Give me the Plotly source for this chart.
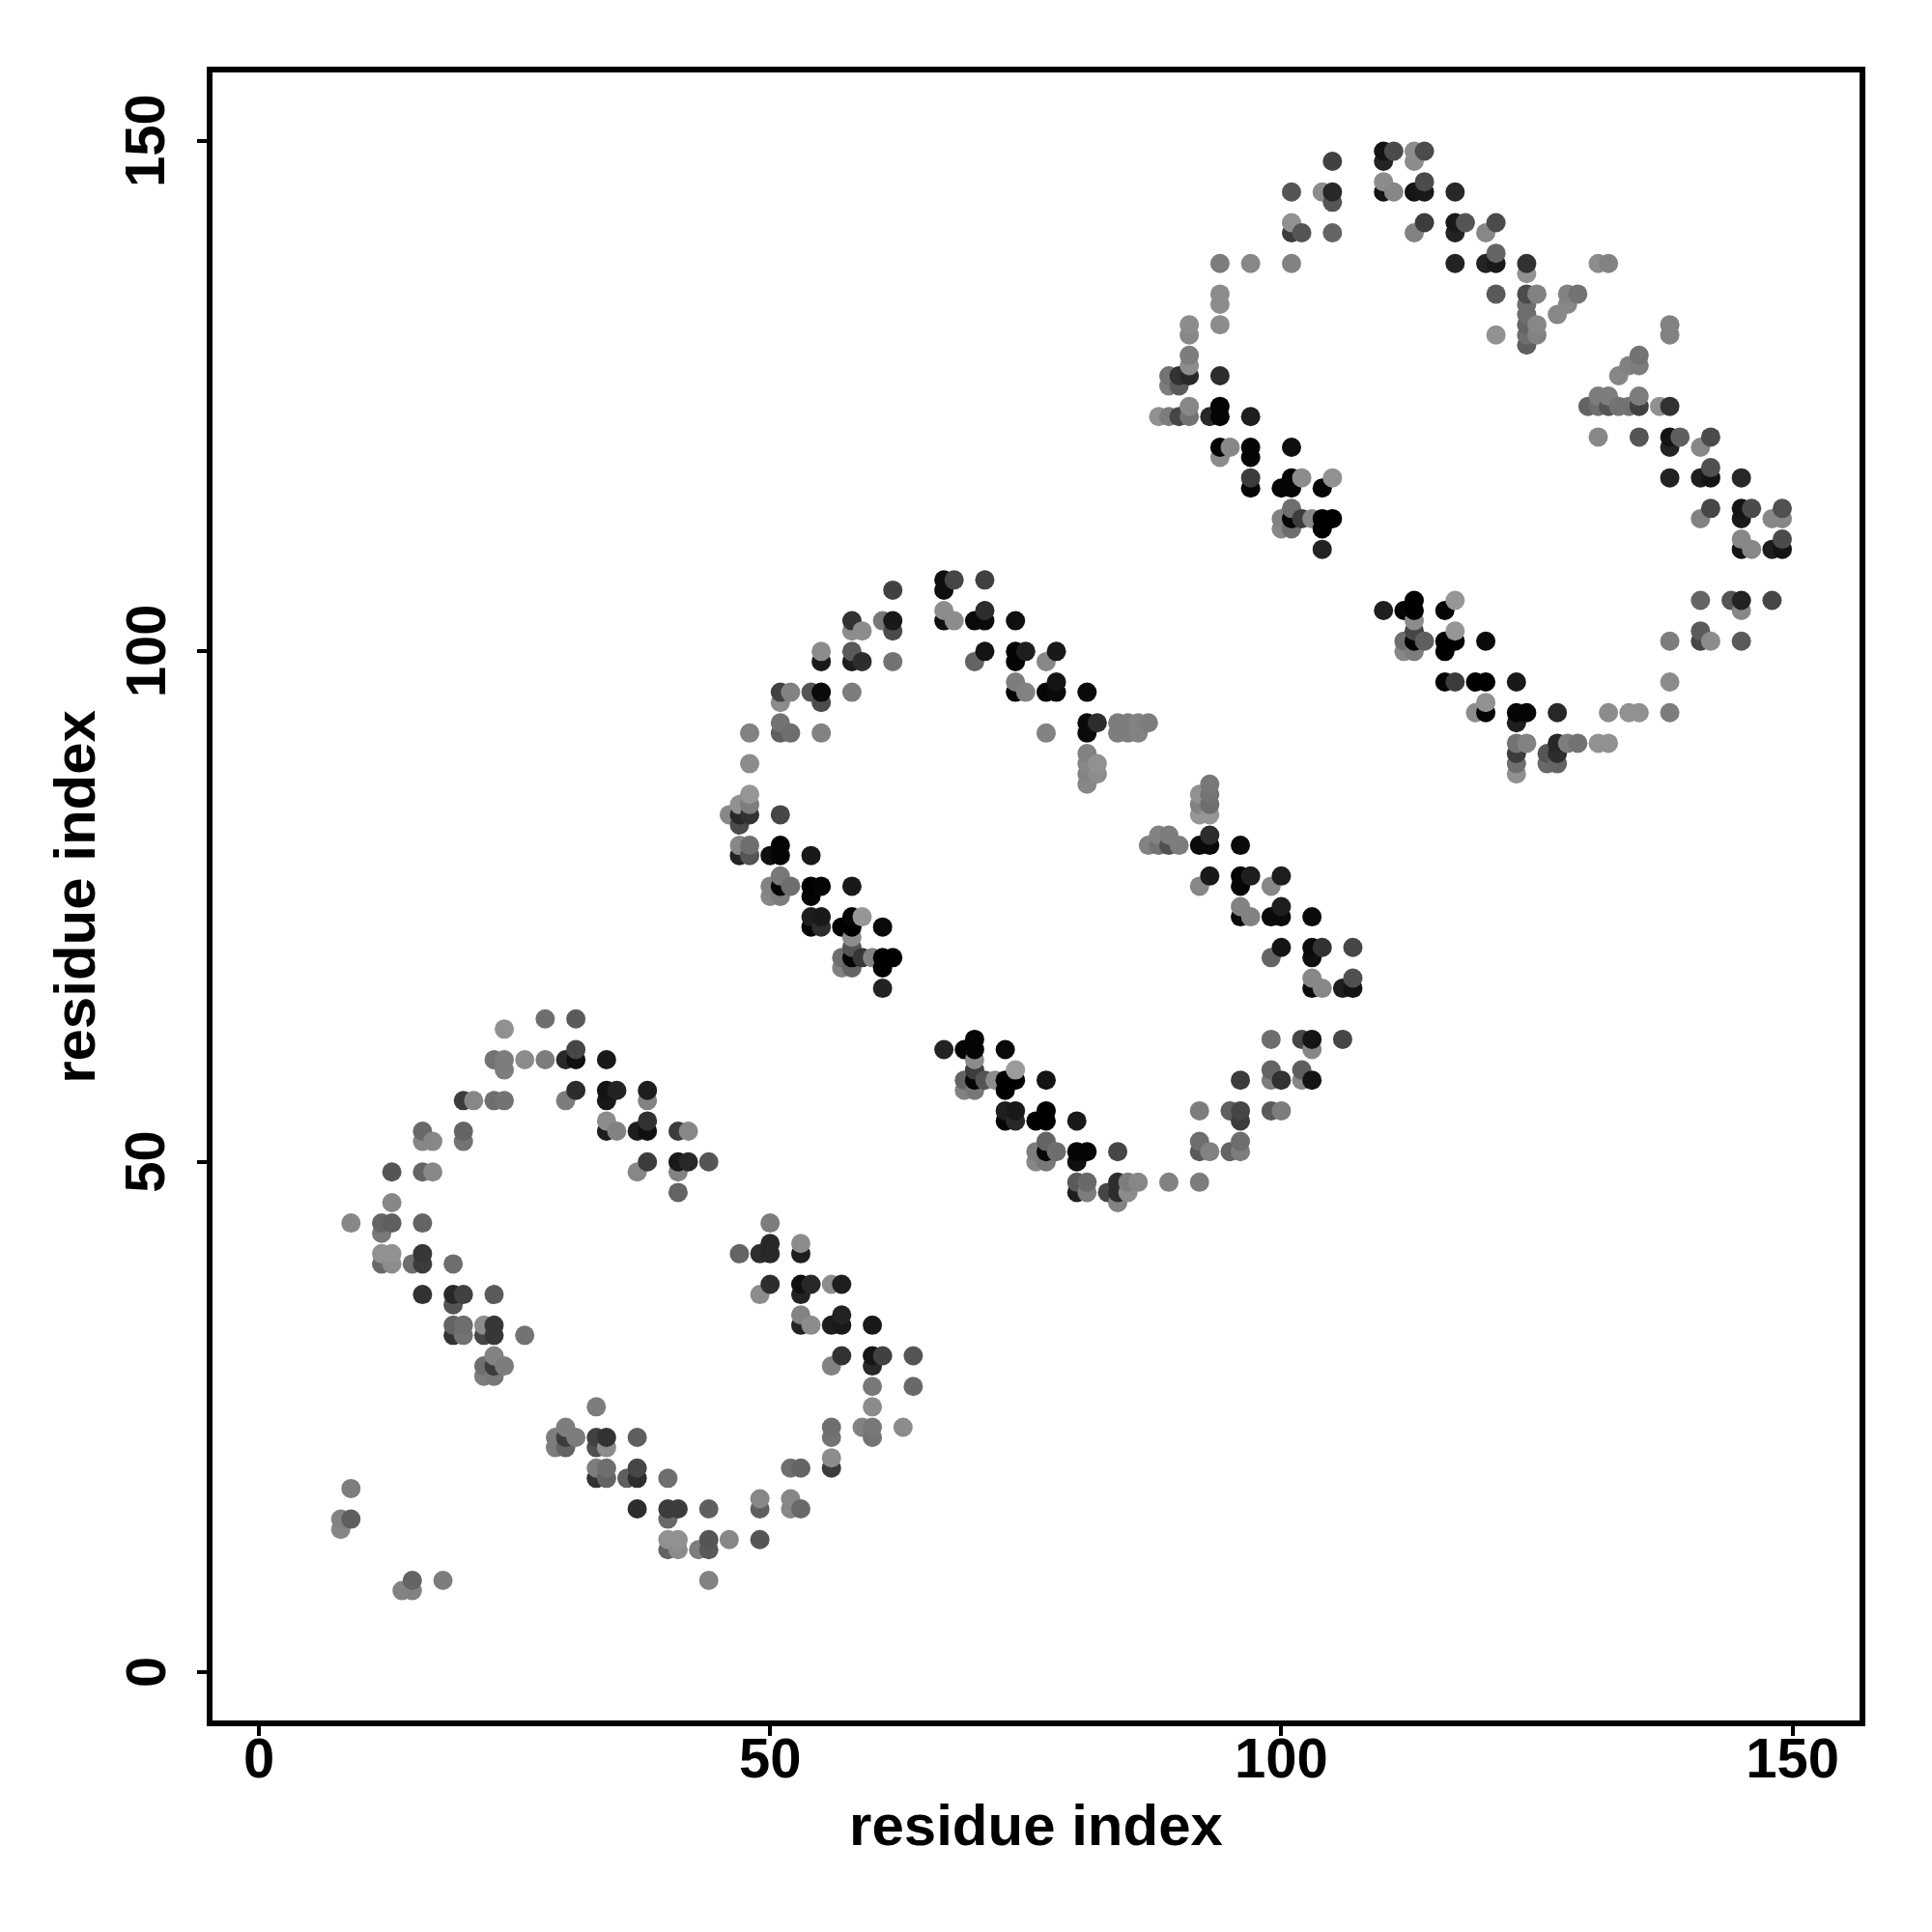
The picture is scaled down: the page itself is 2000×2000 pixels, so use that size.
import numpy as np
import plotly.graph_objects as go

tick_values = [0, 50, 100, 150]
axis_title = "residue index"

# domain 1
d1_x = [24,28,31,31,23,24,24,26,28,30,31,34,31,30,34,35,34,38,38,20,21,23,24,16,16,17,20,20,34,34,35,37,38,38,37,38,13,16,17,13,
        9,12,13,12,16,12,13,12,13,15,16,16,19,16,19,20,19,23,19,20,22,23,26,19,20,22,23,23,22,23,24,22,23,33,30,29,30,31,29,30,
        33,34,33,34,37,33,34,33,34,36,37,37,37,9,8,9,8,15,14,15,18,41,42,41,42,44,41,41,50,50,47,49,50,53,53,50,49,53,54,53,
        56,57,53,53,54,56,57,57,60,57,56,60,61,60,64,60,64,60,56,56,59,60,60,63,56,56,52,53,49,49,52,52,53,49,44,40,41,40,40,41,
        40,41,43,44,44,46,44,40]
d1_y = [63,64,64,61,60,60,59,60,60,60,60,60,57,56,57,57,56,57,56,56,56,56,56,53,52,52,53,52,54,53,53,53,54,53,49,50,49,49,49,46,
        44,44,44,43,44,41,41,40,40,40,41,40,40,37,37,37,36,37,34,34,34,34,33,33,33,33,33,31,30,30,30,29,29,26,24,23,23,23,22,22,
        23,23,22,22,23,20,20,19,19,19,20,19,16,18,15,15,14,9,8,8,9,53,53,50,50,50,49,47,44,42,41,41,41,42,41,38,37,38,38,37,
        38,38,35,34,34,34,35,34,34,31,30,31,31,30,31,28,28,26,24,23,24,24,23,24,21,20,20,20,17,16,17,16,16,13,16,16,16,15,13,13,
        12,12,12,13,12,13,9,19]
d1_grey = [145,110,90,70,115,125,125,140,125,40,15,25,45,125,20,35,25,30,130,60,135,110,115,105,135,135,100,115,140,30,130,30,50,15,135,60,85,100,135,135,
           135,100,95,120,100,145,145,105,140,110,55,60,110,50,40,65,85,90,100,110,140,55,115,50,115,70,55,130,110,60,125,125,120,125,125,125,60,125,125,100,
           65,50,80,140,95,125,110,50,100,95,70,45,45,125,130,95,135,100,130,130,125,60,135,25,40,85,130,100,125,40,100,45,40,140,30,45,140,15,40,35,
           140,30,130,35,140,30,35,25,25,50,130,20,65,40,85,120,105,140,110,115,130,120,115,140,140,60,110,100,135,95,135,135,105,85,95,60,60,105,145,145,
           100,140,125,85,90,135,130,110]

# domain 2
d2_x = [62,67,68,67,71,58,58,59,61,62,62,67,68,67,70,71,71,74,55,55,58,58,59,62,71,70,74,75,74,77,51,52,51,54,55,55,58,74,74,75,
        77,48,51,51,52,55,77,48,48,47,48,46,47,48,47,51,47,48,47,48,50,51,51,54,51,50,51,52,50,51,54,55,54,58,
        54,55,54,55,57,58,58,59,61,58,58,57,58,59,60,61,62,61,57,58,61,
        67,69,70,70,73,70,70,69,70,71,72,73,74,74,73,77,69,70,73,74,73,74,76,77,77,80,77,76,77,78,76,77,80,81,80,84,
        80,81,80,81,83,84,84,85,85,86,84,89,92,92,92,92,93,
        78,78,81,78,81,82,81,84,85,86,87,84,85,86,81,81,82,81,82,81,
        87,88,89,88,89,90,92,93,93,96,92,93,93,92,93,92,93,93,92,96,97,96,100,99,96,97,96,99,100,100,103,100,99,103,104,103,107,103,104,103,106,107,107,
        99,102,103,106,103,99,99,102,103,102,100,96,96,95,99,100,96,96,96,95]
d2_y = [106,107,107,106,107,103,102,102,103,103,102,104,103,103,103,103,104,103,100,99,100,99,99,99,100,99,100,100,99,99,96,96,95,96,96,95,96,97,96,96,
        96,92,93,92,92,92,92,89,86,85,85,84,84,84,83,84,81,81,80,80,80,81,80,80,78,77,77,77,76,76,77,77,76,77,
        74,74,73,73,73,74,73,74,73,72,71,70,70,70,70,70,70,69,69,69,67,
        61,61,62,61,61,60,59,58,58,58,58,58,58,59,57,58,57,57,55,55,54,54,54,55,54,54,52,51,51,51,50,50,51,51,50,51,
        48,48,47,47,47,48,47,48,47,48,46,48,48,55,52,51,51,
        100,97,96,96,93,93,92,93,93,93,93,92,92,92,90,89,89,88,88,87,
        81,82,82,81,81,81,81,81,82,81,86,87,86,85,85,84,84,78,77,78,78,77,78,77,75,74,74,74,75,74,74,71,70,71,71,70,71,68,67,67,67,68,67,
        62,62,62,62,61,59,58,59,58,58,58,58,55,55,55,55,54,52,51,51]
d2_grey = [65,15,70,15,65,50,140,140,120,25,75,140,140,15,10,10,45,15,140,25,90,30,45,115,20,100,5,30,5,135,65,130,140,85,10,75,125,125,5,130,
           5,130,115,95,110,130,130,140,150,145,125,135,40,50,75,70,135,110,35,85,15,5,5,25,120,130,5,110,135,125,0,5,5,25,
           30,25,5,45,0,5,0,150,10,140,85,110,5,55,130,0,0,0,130,100,35,
           35,5,5,5,10,140,60,100,5,85,140,0,0,155,0,20,130,120,30,25,5,40,0,0,0,25,100,125,5,110,135,120,5,5,15,70,
           90,105,30,125,70,45,45,125,140,135,130,130,125,125,110,90,130,
           25,20,10,10,10,45,10,125,125,130,125,125,125,130,130,135,145,130,140,135,
           130,130,125,115,80,125,10,10,45,10,145,120,115,130,110,150,150,25,135,5,30,5,30,135,130,130,10,10,30,10,10,20,100,10,50,15,70,135,135,10,30,80,20,
           110,70,20,70,135,100,125,95,20,135,50,60,70,95,90,125,60,110,125,100]

# domain 3
d3_x = [91,91,89,90,91,89,90,94,88,89,90,91,91,93,94,94,97,94,95,94,97,97,101,97,97,100,101,101,102,104,105,101,100,101,102,103,104,105,104,100,101,104,
        105,110,111,110,113,114,113,101,104,105,105,110,111,110,113,114,114,117,101,101,102,105,114,113,94,97,101,94,94,94,91,91,
        117,118,117,120,121,117,120,121,121,124,124,121,124,125,124,124,124,125,124,125,124,121,128,129,128,127,131,132,138,138,135,134,135,133,
        131,132,135,130,131,132,133,134,135,137,138,131,135,138,139,142,138,141,138,141,142,142,145,142,141,145,146,145,149,148,149,145,146,145,148,149,149,141,144,145,148,145,138,141,141,142,145,
        110,112,113,113,116,117,113,113,112,113,114,112,113,116,117,117,116,120,116,117,119,120,123,119,120,120,123,124,123,127,132,134,135,138,138,
        123,124,123,123,123,126,127,127,126,127,128,129,131,132]
d3_y = [128,129,127,127,127,126,126,127,123,123,123,123,124,123,124,123,123,120,120,119,120,119,120,117,116,116,117,116,117,116,117,114,113,113,113,113,113,113,112,112,112,110,
        148,149,149,148,149,149,148,145,145,145,144,146,145,145,145,145,146,145,142,141,141,141,142,141,138,138,138,135,134,132,132,131,
        142,142,141,141,142,138,138,138,139,138,137,135,135,135,134,133,132,132,131,131,130,131,135,135,134,133,138,138,132,131,129,128,128,127,
        125,125,125,124,124,124,124,124,124,124,124,121,121,121,121,121,120,120,117,117,117,118,117,114,113,114,114,113,114,113,113,111,110,110,110,111,110,105,105,105,105,104,101,102,101,101,101,
        104,104,105,104,104,105,103,102,101,101,101,100,100,101,101,102,100,101,97,97,97,97,97,94,95,94,94,94,93,94,94,94,94,94,97,
        91,91,90,89,88,90,91,90,89,89,91,91,91,91]
d3_grey = [140,125,115,50,40,125,90,45,145,125,70,115,135,40,5,5,30,5,135,140,5,5,15,60,5,5,5,5,140,5,145,110,130,5,60,135,0,0,0,135,110,35,
           65,20,75,35,140,75,140,85,140,40,85,140,135,20,20,25,75,40,145,60,85,100,60,130,125,135,130,140,140,140,140,135,
           25,85,35,135,75,35,35,25,100,50,145,90,75,130,110,110,100,135,110,130,95,145,130,115,135,135,140,130,130,130,115,130,125,135,
           125,125,125,100,110,85,115,115,65,145,50,135,85,20,95,75,35,135,35,30,20,80,40,70,130,20,75,25,80,135,135,135,135,20,30,75,20,100,85,35,70,135,125,90,70,140,90,
           30,5,0,0,5,150,140,70,110,0,95,135,125,0,0,150,0,10,5,60,0,0,25,140,145,5,5,5,30,40,140,145,145,125,140,
           115,130,60,110,145,85,40,45,105,100,125,115,145,145]

x = np.array(d1_x + d2_x + d3_x)
y = np.array(d1_y + d2_y + d3_y)
grey = np.array(d1_grey + d2_grey + d3_grey)
order = np.lexsort((y, x))
colors = [f"rgb({g},{g},{g})" for g in grey[order]]

fig = go.Figure(go.Scatter(
    x=x[order], y=y[order], mode="markers",
    marker=dict(size=20, color=colors, line=dict(width=0)),
    hoverinfo="skip",
))

font = "Liberation Sans"
axis = dict(
    showgrid=False, zeroline=False, showline=True, mirror=True,
    linecolor="black", linewidth=6,
    ticks="outside", ticklen=10, tickwidth=4, tickcolor="black",
    tickmode="array", tickvals=tick_values, ticktext=[str(v) for v in tick_values],
    tickfont=dict(family=font, size=58, color="black", weight="bold"),
)
title_font = dict(family=font, size=60, color="black", weight="bold")
tick_font = dict(family=font, size=58, color="black", weight="bold")

y_labels = [
    dict(text=str(v), xref="paper", yref="y", x=0, y=v, xshift=-70, textangle=-90,
         xanchor="center", yanchor="middle", showarrow=False, font=tick_font)
    for v in tick_values
]
y_title = dict(text=axis_title, xref="paper", yref="paper", x=0, y=0.4995, xshift=-142,
               textangle=-90, xanchor="center", yanchor="middle", showarrow=False, font=title_font)

fig.update_layout(
    width=1984, height=1984, autosize=False,
    paper_bgcolor="white", plot_bgcolor="white", showlegend=False,
    margin=dict(l=211.5, r=67, t=67, b=211),
    xaxis=dict(axis, range=[-4.54, 156.56], ticklabelstandoff=-27,
               title=dict(text=axis_title, standoff=19, font=title_font)),
    yaxis=dict(axis, range=[-4.72, 156.71], showticklabels=False),
    annotations=y_labels + [y_title],
)
fig.write_html("out.html")
